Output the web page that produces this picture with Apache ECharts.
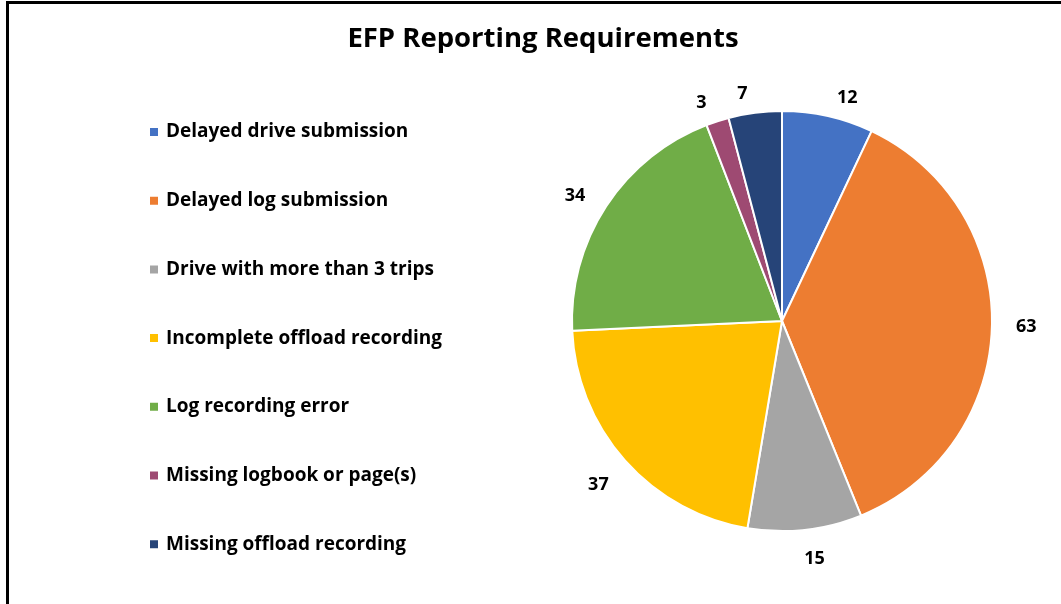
<!DOCTYPE html>
<html>
<head>
<meta charset="utf-8">
<script src="https://cdn.jsdelivr.net/npm/echarts@6/dist/echarts.min.js"></script>
<style>
  html, body { margin: 0; padding: 0; background: #fff; overflow: hidden; }
  #frame {
    position: absolute; left: 6px; top: 1px;
    width: 1100px; height: 700px;
    border: 3px solid #000; box-sizing: border-box;
  }
  #chart { position: absolute; left: 0; top: 0; width: 1061px; height: 604px; }
</style>
</head>
<body>
<div id="frame"></div>
<div id="chart"></div>
<script>
const categories = [
  'Delayed drive submission',
  'Delayed log submission',
  'Drive with more than 3 trips',
  'Incomplete offload recording',
  'Log recording error',
  'Missing logbook or page(s)',
  'Missing offload recording'
];
const counts = [12, 63, 15, 37, 34, 3, 7];
const palette = ['#4472C4', '#ED7D31', '#A5A5A5', '#FFC000', '#70AD47', '#9E4A72', '#264478'];

const font = '"Open Sans", Lato, sans-serif';
const chart = echarts.init(document.getElementById('chart'), null, { renderer: 'canvas' });

// small nudges so the lower labels sit where Excel's best-fit put them
const labelNudge = { 2: [-8, 10], 3: [3, 12] };

chart.setOption({
  animation: false,
  color: palette,
  title: {
    text: 'EFP Reporting Requirements',
    left: 538,
    top: 20,
    textAlign: 'center',
    textStyle: { fontFamily: font, fontWeight: 'bold', fontSize: 27.5, color: '#000' }
  },
  legend: {
    orient: 'vertical',
    left: 143,
    top: 117,
    icon: 'rect',
    itemWidth: 10,
    itemHeight: 10,
    itemGap: 48.7,
    textStyle: { fontFamily: font, fontWeight: 'bold', fontSize: 19, color: '#000', lineHeight: 20, padding: [0, 0, 0, 2] },
    data: categories
  },
  series: [{
    type: 'pie',
    center: [782, 321],
    radius: 210,
    startAngle: 90,
    clockwise: true,
    avoidLabelOverlap: false,
    itemStyle: { borderColor: '#fff', borderWidth: 2 },
    label: {
      show: true,
      position: 'outside',
      formatter: '{c}',
      fontFamily: font,
      fontWeight: 'bold',
      fontSize: 18,
      color: '#000'
    },
    labelLine: { show: false, length: 19, length2: 0 },
    emphasis: { disabled: true },
    data: categories.map((name, i) => {
      const item = { name: name, value: counts[i] };
      if (labelNudge[i]) item.label = { offset: labelNudge[i] };
      return item;
    })
  }]
});
</script>
</body>
</html>
